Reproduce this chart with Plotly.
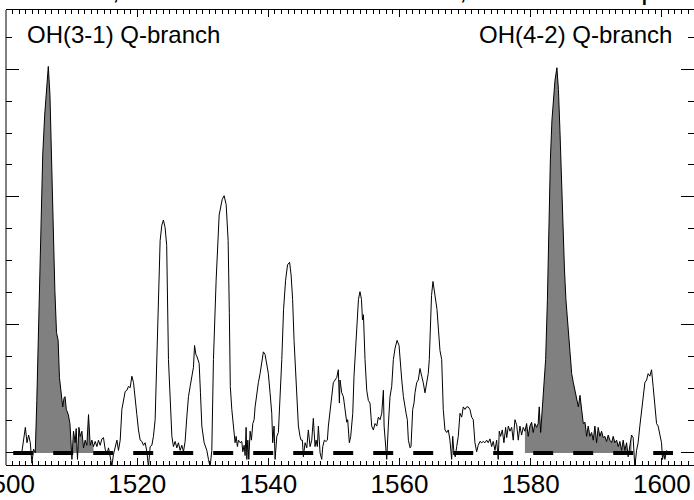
import plotly.graph_objects as go

# Airglow spectrum: wavelength (nm) and relative intensity
wavelength = [
    1502.4, 1502.7, 1502.95, 1503.2, 1503.45, 1503.7, 1503.95, 1504.2, 1504.46, 1504.7,
    1505.0, 1505.3, 1505.6, 1505.9, 1506.2, 1506.45, 1506.7, 1506.95, 1507.2, 1507.45,
    1507.7, 1507.95, 1508.15, 1508.4, 1508.65, 1508.85, 1509.0, 1509.2, 1509.5, 1509.75,
    1509.9, 1510.05, 1510.29, 1510.55, 1510.7, 1510.9, 1511.12, 1511.31, 1511.57, 1511.82,
    1512.07, 1512.33, 1512.58, 1512.84, 1513.1, 1513.34, 1513.6, 1513.86, 1514.1, 1514.36,
    1514.62, 1514.86, 1515.12, 1515.38, 1515.63, 1515.89, 1516.15, 1516.39, 1516.65, 1516.91,
    1517.15, 1517.41, 1517.67, 1517.91, 1518.17, 1518.43, 1518.67, 1518.93, 1519.19, 1519.44,
    1519.7, 1519.95, 1520.2, 1520.46, 1520.72, 1520.96, 1521.22, 1521.48, 1521.72, 1521.98,
    1522.24, 1522.48, 1522.74, 1523.0, 1523.25, 1523.5, 1523.76, 1524.0, 1524.26, 1524.5,
    1524.77, 1525.02, 1525.29, 1525.53, 1525.79, 1526.05, 1526.29, 1526.55, 1526.81, 1527.06,
    1527.31, 1527.57, 1527.82, 1528.08, 1528.34, 1528.58, 1528.75, 1528.95, 1529.14, 1529.45,
    1529.65, 1529.86, 1530.21, 1530.62, 1530.87, 1531.12, 1531.38, 1531.63, 1532.04, 1532.5,
    1532.96, 1533.26, 1533.57, 1533.87, 1534.05, 1534.2, 1534.43, 1534.78, 1534.93, 1535.09,
    1535.28, 1535.44, 1535.69, 1535.95, 1536.11, 1536.31, 1536.46, 1536.61, 1536.72, 1536.87,
    1537.02, 1537.22, 1537.42, 1537.63, 1537.83, 1537.98, 1538.24, 1538.48, 1538.74, 1539.0,
    1539.24, 1539.5, 1539.76, 1540.0, 1540.26, 1540.52, 1540.67, 1540.87, 1541.03, 1541.29,
    1541.53, 1541.79, 1542.05, 1542.32, 1542.63, 1542.93, 1543.24, 1543.47, 1543.7, 1543.92,
    1544.07, 1544.33, 1544.58, 1544.83, 1544.99, 1545.19, 1545.34, 1545.6, 1545.86, 1546.1,
    1546.36, 1546.62, 1546.86, 1547.12, 1547.28, 1547.47, 1547.63, 1547.89, 1548.14, 1548.3,
    1548.54, 1548.8, 1549.0, 1549.15, 1549.41, 1549.67, 1549.91, 1550.17, 1550.43, 1550.67,
    1550.83, 1550.93, 1551.19, 1551.44, 1551.69, 1551.95, 1552.1, 1552.35, 1552.56, 1552.87,
    1553.06, 1553.22, 1553.51, 1553.74, 1553.97, 1554.2, 1554.35, 1554.5, 1554.74, 1555.0,
    1555.25, 1555.5, 1555.76, 1556.01, 1556.27, 1556.53, 1556.77, 1557.03, 1557.29, 1557.54,
    1557.65, 1557.8, 1558.05, 1558.29, 1558.55, 1558.81, 1559.06, 1559.33, 1559.63, 1559.93,
    1560.08, 1560.34, 1560.59, 1560.84, 1561.0, 1561.19, 1561.35, 1561.61, 1561.75, 1562.01,
    1562.21, 1562.36, 1562.62, 1562.86, 1563.12, 1563.38, 1563.62, 1563.88, 1564.14, 1564.38,
    1564.54, 1564.72, 1564.88, 1565.1, 1565.33, 1565.49, 1565.72, 1565.94, 1566.17, 1566.43,
    1566.67, 1566.93, 1567.19, 1567.44, 1567.69, 1567.95, 1568.11, 1568.3, 1568.5, 1568.72,
    1568.96, 1569.22, 1569.48, 1569.72, 1569.98, 1570.24, 1570.48, 1570.74, 1571.0, 1571.24,
    1571.5, 1571.76, 1572.0, 1572.27, 1572.53, 1572.77, 1573.03, 1573.29, 1573.53, 1573.79,
    1574.05, 1574.29, 1574.55, 1574.81, 1575.05, 1575.21, 1575.42, 1575.67, 1575.92, 1576.18,
    1576.34, 1576.59, 1576.84, 1577.1, 1577.34, 1577.6, 1577.86, 1578.11, 1578.36, 1578.62,
    1578.86, 1579.12, 1579.38, 1579.62, 1579.88, 1580.14, 1580.38, 1580.64, 1580.9, 1581.14,
    1581.3, 1581.52, 1581.76, 1582.02, 1582.28, 1582.55, 1582.77, 1583.0, 1583.24, 1583.47,
    1583.7, 1584.0, 1584.23, 1584.46, 1584.69, 1584.92, 1585.15, 1585.37, 1585.6, 1585.83,
    1585.99, 1586.25, 1586.5, 1586.76, 1587.02, 1587.27, 1587.52, 1587.78, 1588.02, 1588.28,
    1588.53, 1588.77, 1589.03, 1589.29, 1589.54, 1589.79, 1590.05, 1590.29, 1590.55, 1590.81,
    1591.05, 1591.31, 1591.57, 1591.82, 1592.08, 1592.34, 1592.58, 1592.84, 1593.1, 1593.35,
    1593.6, 1593.86, 1594.1, 1594.36, 1594.62, 1594.86, 1595.12, 1595.38, 1595.62, 1595.88,
    1596.14, 1596.38, 1596.64, 1596.9, 1597.15, 1597.41, 1597.67, 1597.91, 1598.17, 1598.43,
    1598.67, 1598.93, 1599.19, 1599.43, 1599.69, 1599.95, 1600.1, 1600.3, 1600.46, 1600.72,
]
intensity = [
    0, 13, 20, 8, 14, 8, -8, 3, 0, 41,
    104, 166, 233, 264, 284, 302, 280, 221, 174, 127,
    94, 88, 59, 47, 36, 43, 44, 34, 30, 23,
    10, -5, 17, 8, 19, -5, 20, 13, 17, 4,
    10, 6, 30, 6, 10, 5, 9, 5, 10, 6,
    11, 12, 3, -1, 4, -5, -10, -1, 5, 10,
    2, 10, 34, 41, 48, 49, 52, 51, 60, 55,
    39, 30, 18, 10, 9, 6, 8, 1, -11, 5,
    6, 13, 26, 73, 120, 166, 178, 182, 176, 162,
    73, 41, 13, 5, 9, 4, 8, 2, 6, 1,
    9, 28, 44, 52, 60, 67, 84, 77, 75, 70,
    47, 21, 8, 2, -5, -11, 2, 73, 135, 186,
    198, 201, 194, 166, 110, 52, 34, 13, 8, 13,
    5, 10, 8, 9, 1, 6, -2, 20, -5, 10,
    -5, 17, 10, 23, 26, 36, 47, 55, 62, 70,
    79, 77, 70, 62, 47, 31, 8, 21, -5, 13,
    16, 41, 73, 112, 135, 147, 149, 139, 120, 88,
    73, 47, 21, 13, 10, 10, -3, 8, 4, 18,
    5, 10, 27, 5, 10, 5, 21, 0, -5, 5,
    10, 9, 10, 21, 34, 44, 55, 57, 59, 65,
    39, 57, 47, 44, 34, 24, 26, 8, 13, 31,
    60, 73, 104, 120, 126, 120, 104, 108, 73, 49,
    41, 39, 21, 18, 23, 21, 28, 26, 31, 49,
    21, 13, -5, 21, 44, 52, 73, 82, 88, 84,
    73, 57, 44, 34, 31, 26, 10, 4, 5, 34,
    39, 47, 55, 57, 66, 60, 55, 47, 55, 62,
    73, 104, 123, 134, 127, 120, 112, 96, 80, 73,
    34, 18, 16, 18, 10, -5, 13, 0, -3, 5,
    13, 31, 28, 36, 34, 36, 36, 34, 28, 26,
    8, 1, 6, 9, 8, 9, 8, 10, 8, 11,
    5, 9, 2, 10, -5, 17, 13, 18, 8, 20,
    12, 21, 17, 20, 10, 26, 22, 10, 21, 14,
    20, 17, 23, 13, 21, 24, 16, 23, 20, 23,
    36, 16, 34, 47, 73, 120, 174, 229, 260, 280,
    291, 301, 284, 252, 213, 174, 143, 120, 104, 88,
    73, 62, 55, 49, 41, 36, 45, 31, 23, 24,
    13, 21, 13, 16, 10, 21, 8, 20, 13, 17,
    12, 13, 9, 14, 10, 8, 13, 8, 10, 5,
    9, 2, 10, 2, 8, -3, 6, 14, 12, -11,
    2, 8, 21, 34, 47, 55, 57, 62, 60, 65,
    52, 39, 23, 21, 13, 8, -5, 0, -5, 2,
]

# Wavelength windows of the two OH Q-branches (shaded)
q31_window = [1504.4, 1513.5]
q42_window = [1579.1, 1595.4]

# Dashed zero-level reference
zero_line_x = [1501.1, 1601.7]
zero_line_y = [0, 0]

title_text = "SATI C-3, 2012-07-21 20:00:00.000Z, 40 second exposure"
label_q31 = "OH(3-1) Q-branch"
label_q42 = "OH(4-2) Q-branch"

x_range = [1500, 1604.9]
y_range = [-9.4, 346.1]

FONT = "Liberation Sans, Arial, sans-serif"
FILL = "rgb(128,128,128)"


def window(lo, hi):
    xs, ys = [], []
    for w, v in zip(wavelength, intensity):
        if lo <= w <= hi:
            xs.append(w)
            ys.append(v)
    return xs, ys


fig = go.Figure()

for lo, hi in (q31_window, q42_window):
    wx, wy = window(lo, hi)
    fig.add_trace(go.Scatter(
        x=wx, y=wy, mode="lines", fill="tozeroy",
        fillcolor=FILL, line=dict(width=0, color=FILL),
        hoverinfo="skip", showlegend=False,
    ))

fig.add_trace(go.Scatter(
    x=zero_line_x, y=zero_line_y, mode="lines",
    line=dict(color="black", width=4, dash="20px,20px"),
    hoverinfo="skip", showlegend=False,
))

fig.add_trace(go.Scatter(
    x=wavelength, y=intensity, mode="lines",
    line=dict(color="black", width=1),
    showlegend=False,
))

fig.update_layout(
    width=694, height=500,
    margin=dict(l=6, r=0, t=10, b=35, autoexpand=False),
    paper_bgcolor="white", plot_bgcolor="white",
    font=dict(family=FONT, color="black"),
    xaxis=dict(
        range=x_range, showgrid=False, zeroline=False, automargin=False,
        showline=True, linecolor="black", linewidth=1, mirror="allticks",
        ticks="inside", ticklen=7, tickcolor="black", tickwidth=1,
        tick0=1500, dtick=20, ticklabeloverflow="allow", ticklabelstandoff=-4,
        minor=dict(ticks="inside", ticklen=4, dtick=1, tickcolor="black", showgrid=False),
        tickfont=dict(size=26, family=FONT, color="black"),
    ),
    yaxis=dict(
        range=y_range, showgrid=False, zeroline=False, automargin=False,
        showline=False, mirror="ticks",
        ticks="inside", ticklen=13, tickcolor="black", tickwidth=1,
        tick0=0, dtick=100, showticklabels=False,
        minor=dict(ticks="inside", ticklen=6, dtick=25, tickcolor="black", showgrid=False),
    ),
    shapes=[dict(type="line", xref="paper", yref="paper", x0=0, x1=0, y0=0, y1=1,
                 line=dict(color="black", width=1))],
    annotations=[
        dict(text=title_text, xref="paper", yref="paper", x=-0.013, y=1.006,
             xanchor="left", yanchor="bottom", showarrow=False,
             font=dict(size=28, family=FONT, color="black")),
        dict(text=label_q31, xref="x", yref="y", x=1502.9, y=327,
             xanchor="left", yanchor="middle", showarrow=False,
             font=dict(size=24, family=FONT, color="black")),
        dict(text=label_q42, xref="x", yref="y", x=1601.8, y=327,
             xanchor="right", yanchor="middle", showarrow=False,
             font=dict(size=24, family=FONT, color="black")),
    ],
)

fig.write_html("out.html")
